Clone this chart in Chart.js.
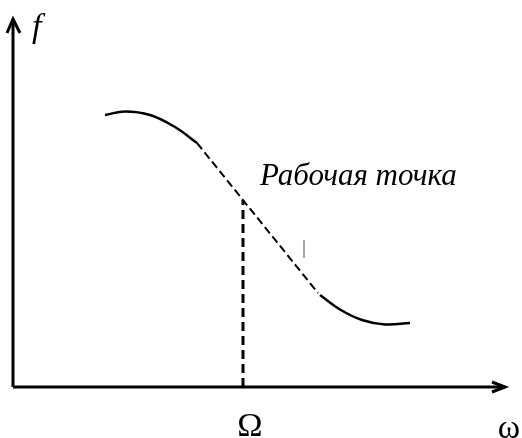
<!DOCTYPE html>
<html>
<head>
<meta charset="utf-8">
<script src="https://cdn.jsdelivr.net/npm/chart.js@4/dist/chart.umd.min.js"></script>
<style>
  html, body { margin: 0; padding: 0; background: #fff; }
  canvas { display: block; }
</style>
</head>
<body>
<canvas id="chart" width="522" height="438"></canvas>
<script>
// characteristic f(ω) - left and right solid parts
var leftX = [9.2, 11.2, 13.7, 16.2, 18.4];
var leftY = [27.2, 27.55, 27.2, 26.0, 24.4];
var rightX = [30.7, 32.7, 34.9, 37.2, 39.7];
var rightY = [9.2, 7.75, 6.7, 6.25, 6.4];

// tangent at the operating point
var tangentX = [18.4, 30.5];
var tangentY = [24.4, 9.4];

// operating point Ω
var omegaX = 23.0;
var omegaY = 18.7;

// axes
var axisYTop = 36.8;
var axisXEnd = 49.2;

// small stray mark
var markX = [29.1, 29.1];
var markY = [14.7, 12.9];

function pts(xs, ys) {
  var out = [];
  for (var i = 0; i < xs.length; i++) out.push({ x: xs[i], y: ys[i] });
  return out;
}

var black = "#000";

var datasets = [
  { data: pts([0, 0], [0, axisYTop]), borderWidth: 3 },
  { data: pts([-0.6, 0, 0.7], [35.4, axisYTop, 35.4]), borderWidth: 3 },
  { data: pts([0, axisXEnd], [0, 0]), borderWidth: 3 },
  { data: pts([47.9, axisXEnd, 47.9], [0.5, 0, -0.5]), borderWidth: 3 },
  { data: pts(leftX, leftY), borderWidth: 2.5, tension: 0.4 },
  { data: pts(rightX, rightY), borderWidth: 2.5, tension: 0.4 },
  { data: pts(tangentX, tangentY), borderWidth: 2, borderDash: [8, 4] },
  { data: pts([omegaX, omegaX], [0, omegaY]), borderWidth: 3, borderDash: [9, 5] },
  { data: pts(markX, markY), borderWidth: 1, borderColor: "#999" }
];
datasets.forEach(function (d) {
  d.showLine = true;
  d.pointRadius = 0;
  d.fill = false;
  d.clip = false;
  if (!d.borderColor) d.borderColor = black;
  d.borderCapStyle = "butt";
});

// text labels, placed in data units
var labels = [
  { text: "f", x: 1.9, y: 35.0, font: "italic 34px 'Liberation Serif'", align: "left" },
  { text: "Рабочая точка", x: 24.7, y: 20.2, font: "italic 31px 'Liberation Serif'", align: "left" },
  { text: "Ω", x: 23.7, y: -4.9, font: "34px 'Liberation Serif'", align: "center" },
  { text: "ω", x: 49.6, y: -5.1, font: "34px 'Liberation Serif'", align: "center" }
];

var textPlugin = {
  id: "textLabels",
  afterDatasetsDraw: function (chart) {
    var ctx = chart.ctx;
    var xs = chart.scales.x, ys = chart.scales.y;
    ctx.save();
    ctx.fillStyle = black;
    ctx.textBaseline = "alphabetic";
    labels.forEach(function (l) {
      ctx.font = l.font;
      ctx.textAlign = l.align;
      ctx.fillText(l.text, xs.getPixelForValue(l.x), ys.getPixelForValue(l.y));
    });
    ctx.restore();
  }
};

new Chart(document.getElementById("chart").getContext("2d"), {
  type: "scatter",
  data: { datasets: datasets },
  options: {
    responsive: false,
    animation: false,
    layout: { padding: 0 },
    plugins: { legend: { display: false }, tooltip: { enabled: false } },
    scales: {
      x: { type: "linear", min: -1.3, max: 50.9, display: false },
      y: { type: "linear", min: -5.1, max: 38.7, display: false }
    }
  },
  plugins: [textPlugin]
});
</script>
</body>
</html>
